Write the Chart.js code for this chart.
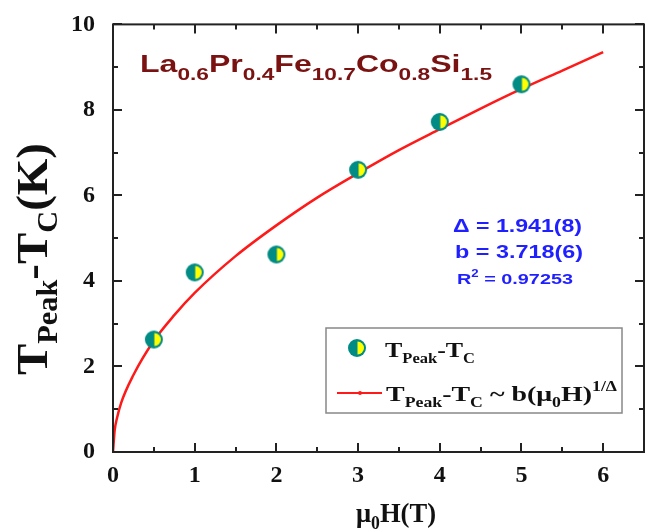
<!DOCTYPE html>
<html>
<head>
<meta charset="utf-8">
<script src="https://cdn.jsdelivr.net/npm/chart.js@4"></script>
<style>
  html, body { margin: 0; padding: 0; background: #fff; }
  #c { display: block; }
</style>
</head>
<body>
<canvas id="c" width="654" height="531"></canvas>
<script>
// measured points
const fieldT = [0.5, 1, 2, 3, 4, 5];
const deltaT = [2.63, 4.2, 4.62, 6.6, 7.72, 8.6];

// fitted curve
const fitField = [0, 0.02, 0.05, 0.1, 0.25, 0.5, 0.75, 1, 1.5, 2, 2.5, 3, 3.5, 4, 4.5, 5, 5.5, 6];
const fitDelta = [0, 0.5, 0.8, 1.15, 1.8, 2.6, 3.2, 3.72, 4.58, 5.3, 5.95, 6.52, 7.06, 7.55, 8.03, 8.49, 8.92, 9.35];

const xTicks = [0, 1, 2, 3, 4, 5, 6];
const yTicks = [0, 2, 4, 6, 8, 10];

const TEAL = '#008b84';
const YELLOW = '#ffff00';
const SERIF = '"Liberation Serif", "Times New Roman", serif';
const SANS = '"Liberation Sans", Arial, sans-serif';

const makeMarker = (r) => {
  const cv = document.createElement('canvas');
  const s = r * 2 + 2;
  cv.width = s; cv.height = s;
  const g = cv.getContext('2d');
  const c = s / 2;
  g.fillStyle = TEAL;
  g.beginPath(); g.arc(c, c, r, 0, Math.PI * 2); g.fill();
  g.fillStyle = YELLOW;
  g.beginPath(); g.moveTo(c + 0.5, c - r + 2.5);
  g.arc(c + 0.5, c, r - 2.5, -Math.PI / 2, Math.PI / 2); g.closePath(); g.fill();
  return cv;
};
const marker = makeMarker(9);

// pieces: [text, font, dy]; squeezed/stretched along the text to fit width w
const richText = (ctx, parts, x, y, color, w, sy) => {
  ctx.save();
  ctx.fillStyle = color;
  ctx.textBaseline = 'alphabetic';
  ctx.textAlign = 'left';
  let total = 0;
  parts.forEach(([t, f]) => { ctx.font = f; total += ctx.measureText(t).width; });
  ctx.translate(x, y);
  ctx.scale(w ? w / total : 1, sy || 1);
  let cx = 0;
  parts.forEach(([t, f, dy]) => {
    ctx.font = f;
    ctx.fillText(t, cx, dy || 0);
    cx += ctx.measureText(t).width;
  });
  ctx.restore();
};

const decor = {
  id: 'decor',
  afterDraw(chart) {
    const { ctx, chartArea: a, scales: { x, y } } = chart;
    ctx.save();
    // frame
    ctx.strokeStyle = '#222';
    ctx.lineWidth = 2;
    ctx.strokeRect(a.left, a.top, a.right - a.left, a.bottom - a.top);
    // inward ticks on all four sides
    ctx.beginPath();
    for (let v = 0; v <= 6.5; v += 0.5) {
      const px = Math.round(x.getPixelForValue(v));
      const len = Number.isInteger(v) ? 9 : 5;
      ctx.moveTo(px, a.bottom); ctx.lineTo(px, a.bottom - len);
      ctx.moveTo(px, a.top); ctx.lineTo(px, a.top + len);
    }
    for (let v = 0; v <= 10; v += 1) {
      const py = Math.round(y.getPixelForValue(v));
      const len = v % 2 === 0 ? 9 : 5;
      ctx.moveTo(a.left, py); ctx.lineTo(a.left + len, py);
      ctx.moveTo(a.right, py); ctx.lineTo(a.right - len, py);
    }
    ctx.stroke();

    // compound label
    const big = `bold 24px ${SANS}`, sub = `bold 17px ${SANS}`;
    richText(ctx, [
      ['La', big], ['0.6', sub, 8], ['Pr', big], ['0.4', sub, 8], ['Fe', big], ['10.7', sub, 8],
      ['Co', big], ['0.8', sub, 8], ['Si', big], ['1.5', sub, 8]
    ], 140, 72, '#7a1212', 352);

    // fit parameters
    const blue = '#1f1fff';
    richText(ctx, [['\u0394 = 1.941(8)', `bold 19px ${SANS}`]], 453, 232, blue, 129);
    richText(ctx, [['b = 3.718(6)', `bold 19px ${SANS}`]], 455, 258, blue, 128);
    richText(ctx, [['R', `bold 15px ${SANS}`], ['2', `bold 10px ${SANS}`, -7], [' = 0.97253', `bold 15px ${SANS}`]], 457, 284, blue, 116);

    // legend box
    ctx.fillStyle = '#fff';
    ctx.fillRect(326, 328, 296, 85);
    ctx.strokeStyle = '#888';
    ctx.lineWidth = 1.5;
    ctx.strokeRect(326, 328, 296, 85);
    ctx.drawImage(marker, 357 - marker.width / 2, 348 - marker.height / 2);
    const lt = `bold 22px ${SERIF}`, ls = `bold 14px ${SERIF}`;
    richText(ctx, [['T', lt], ['Peak', ls, 6], ['-T', lt], ['C', ls, 6]], 385, 357, '#111', 90);
    ctx.strokeStyle = '#ff1a1a';
    ctx.lineWidth = 2;
    ctx.beginPath(); ctx.moveTo(337, 393); ctx.lineTo(382, 393); ctx.stroke();
    ctx.fillStyle = '#ff1a1a';
    ctx.beginPath(); ctx.arc(360, 393, 2, 0, Math.PI * 2); ctx.fill();
    richText(ctx, [['T', lt], ['Peak', ls, 6], ['-T', lt], ['C', ls, 6], [' ~ b(\u03bc', lt], ['0', ls, 6], ['H)', lt], ['1/\u0394', ls, -10]], 386, 401, '#111', 231);

    // axis titles
    ctx.save();
    ctx.translate(47, 375);
    ctx.rotate(-Math.PI / 2);
    richText(ctx, [['T', `bold 45px ${SERIF}`], ['Peak', `bold 29px ${SERIF}`, 10], ['-T', `bold 45px ${SERIF}`], ['C', `bold 29px ${SERIF}`, 10], ['(K)', `bold 45px ${SERIF}`]], 0, 0, '#111', 232);
    ctx.restore();
    richText(ctx, [['\u03bc', `bold 27px ${SERIF}`], ['0', `bold 18px ${SERIF}`, 7], ['H(T)', `bold 27px ${SERIF}`]], 356, 522, '#111', 80);
    ctx.restore();
  }
};

new Chart(document.getElementById('c'), {
  type: 'scatter',
  data: {
    datasets: [
      {
        label: 'fit',
        data: fitField.map((v, i) => ({ x: v, y: fitDelta[i] })),
        showLine: true,
        borderColor: '#ff1a1a',
        borderWidth: 2.5,
        pointRadius: 0,
        cubicInterpolationMode: 'monotone',
        order: 2
      },
      {
        label: 'TPeak-TC',
        data: fieldT.map((v, i) => ({ x: v, y: deltaT[i] })),
        pointStyle: marker,
        pointRadius: 9,
        order: 1
      }
    ]
  },
  options: {
    responsive: false,
    animation: false,
    layout: { padding: { top: 21, right: 6, left: 0, bottom: 0 } },
    plugins: { legend: { display: false }, tooltip: { enabled: false } },
    scales: {
      x: {
        type: 'linear', min: 0, max: 6.5,
        grid: { display: false }, border: { display: false },
        afterFit: (s) => { s.height = 79; },
        afterBuildTicks: (s) => { s.ticks = xTicks.map((v) => ({ value: v })); },
        ticks: { color: '#111', padding: 1, maxRotation: 0, font: { family: SERIF, size: 24, weight: 'bold' } }
      },
      y: {
        type: 'linear', min: 0, max: 10,
        grid: { display: false }, border: { display: false },
        afterFit: (s) => { s.width = 113; },
        afterBuildTicks: (s) => { s.ticks = yTicks.map((v) => ({ value: v })); },
        ticks: { color: '#111', padding: 10, font: { family: SERIF, size: 24, weight: 'bold' } }
      }
    }
  },
  plugins: [decor]
});
</script>
</body>
</html>
